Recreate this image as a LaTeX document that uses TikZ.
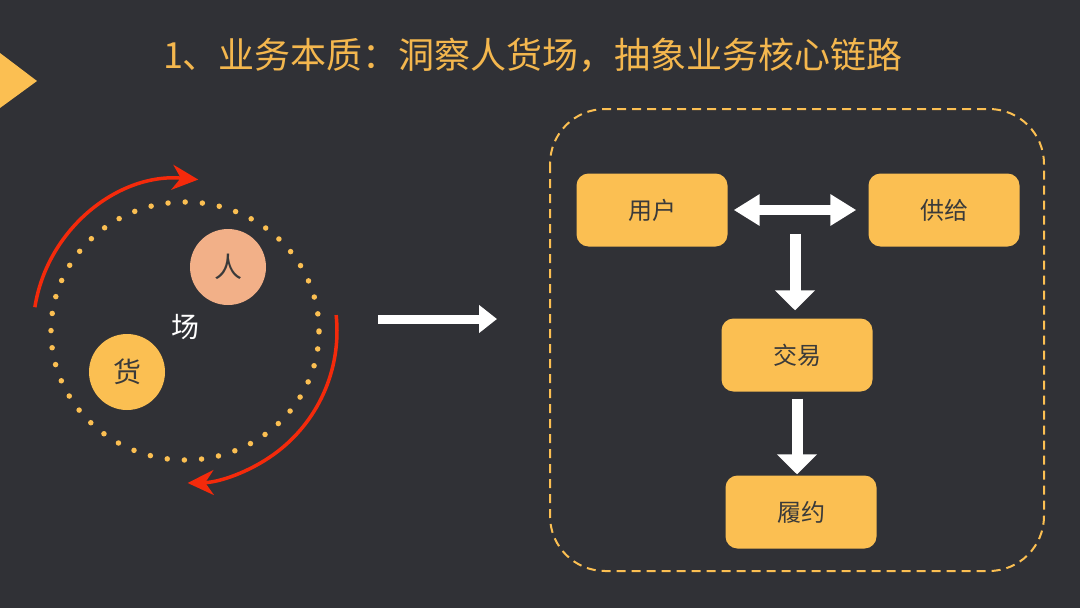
\documentclass[tikz,border=0pt]{standalone}
\usepackage{fontspec}
\newfontfamily\cjk{Noto Sans CJK SC}
\definecolor{PPTbg}{HTML}{303136}
\definecolor{PPTgold}{HTML}{FBBF52}
\definecolor{PPTtitle}{HTML}{F4B74E}
\definecolor{PPTpeach}{HTML}{F2B088}
\definecolor{PPTred}{HTML}{F42A0B}
\definecolor{PPTink}{HTML}{3A3A3A}
\usetikzlibrary{arrows.meta, calc, positioning}

\tikzset{
   stage/.style={fill=PPTgold, rounded corners=12pt, minimum width=151pt, minimum height=73pt,
      inner sep=0pt, text=PPTink, font=\cjk\fontsize{24}{24}\selectfont},
   role/.style={circle, minimum size=76pt, inner sep=0pt, text=PPTink, font=\cjk\fontsize{28}{28}\selectfont},
   cycle/.style={PPTred, line width=3.5pt, -{Stealth[length=26pt, width=25pt]}},
   blockarrow/.style={white, line width=11pt, -{Triangle[length=20pt, width=39pt]}}
}

\begin{document}
\begin{tikzpicture}[x=1pt, y=1pt]
            \fill[PPTbg] (0,0) rectangle (1080,-608);
            \useasboundingbox (0,0) rectangle (1080,-608);
            \fill[PPTgold] (0,-53) -- (37,-81) -- (0,-108) -- cycle;
            \node[text=PPTtitle, font=\cjk\fontsize{36}{36}\selectfont] (title) at (533,-55)
               {1、业务本质：洞察人货场，抽象业务核心链路};
            \draw[PPTgold, line width=5.5pt, line cap=round, dash pattern=on 0pt off 17.2pt]
               (185,-331) ellipse [x radius=134, y radius=129];
            \draw[cycle] (185,-331) ++(171:152) arc[start angle=171, end angle=85, radius=152];
            \draw[cycle] (185,-331) ++(6:152) arc[start angle=6, end angle=-89, radius=152];
            \node[role, fill=PPTpeach] (people) at (228,-267) {人};
            \node[role, fill=PPTgold] (goods) at (127,-372) {货};
            \node[text=white, font=\cjk\fontsize{28}{28}\selectfont] (place) at (185,-327) {场};
            \coordinate (leftend) at (378,-319);
            \coordinate (rightend) at (497,-319);
            \draw[white, line width=9pt, -{Triangle[length=18pt, width=27pt]}] (leftend) -- (rightend);
            \draw[PPTgold, line width=2pt, dash pattern=on 9pt off 6pt, rounded corners=55pt]
               (550,-109) rectangle (1044,-571);
            \node[stage] (user) at (652,-210) {用户};
            \node[stage] (supply) at (944,-210) {供给};
            \node[stage] (trade) at (797,-355) {交易};
            \node[stage] (fulfil) at (801,-512) {履约};
            \coordinate (pair) at ($(user.east)!0.5!(supply.west)+(-3,-24)$);
            \draw[white, line width=10pt, {Triangle[length=26pt, width=30pt]}-{Triangle[length=26pt, width=30pt]},
               shorten <=6pt, shorten >=12pt] (user) -- (supply);
            \draw[blockarrow, shorten >=8pt] (pair) -- (pair |- trade.north);
            \draw[blockarrow, shorten <=7pt, shorten >=1pt] (trade.south) -- (trade.south |- fulfil.north);
         \end{tikzpicture}
\end{document}
